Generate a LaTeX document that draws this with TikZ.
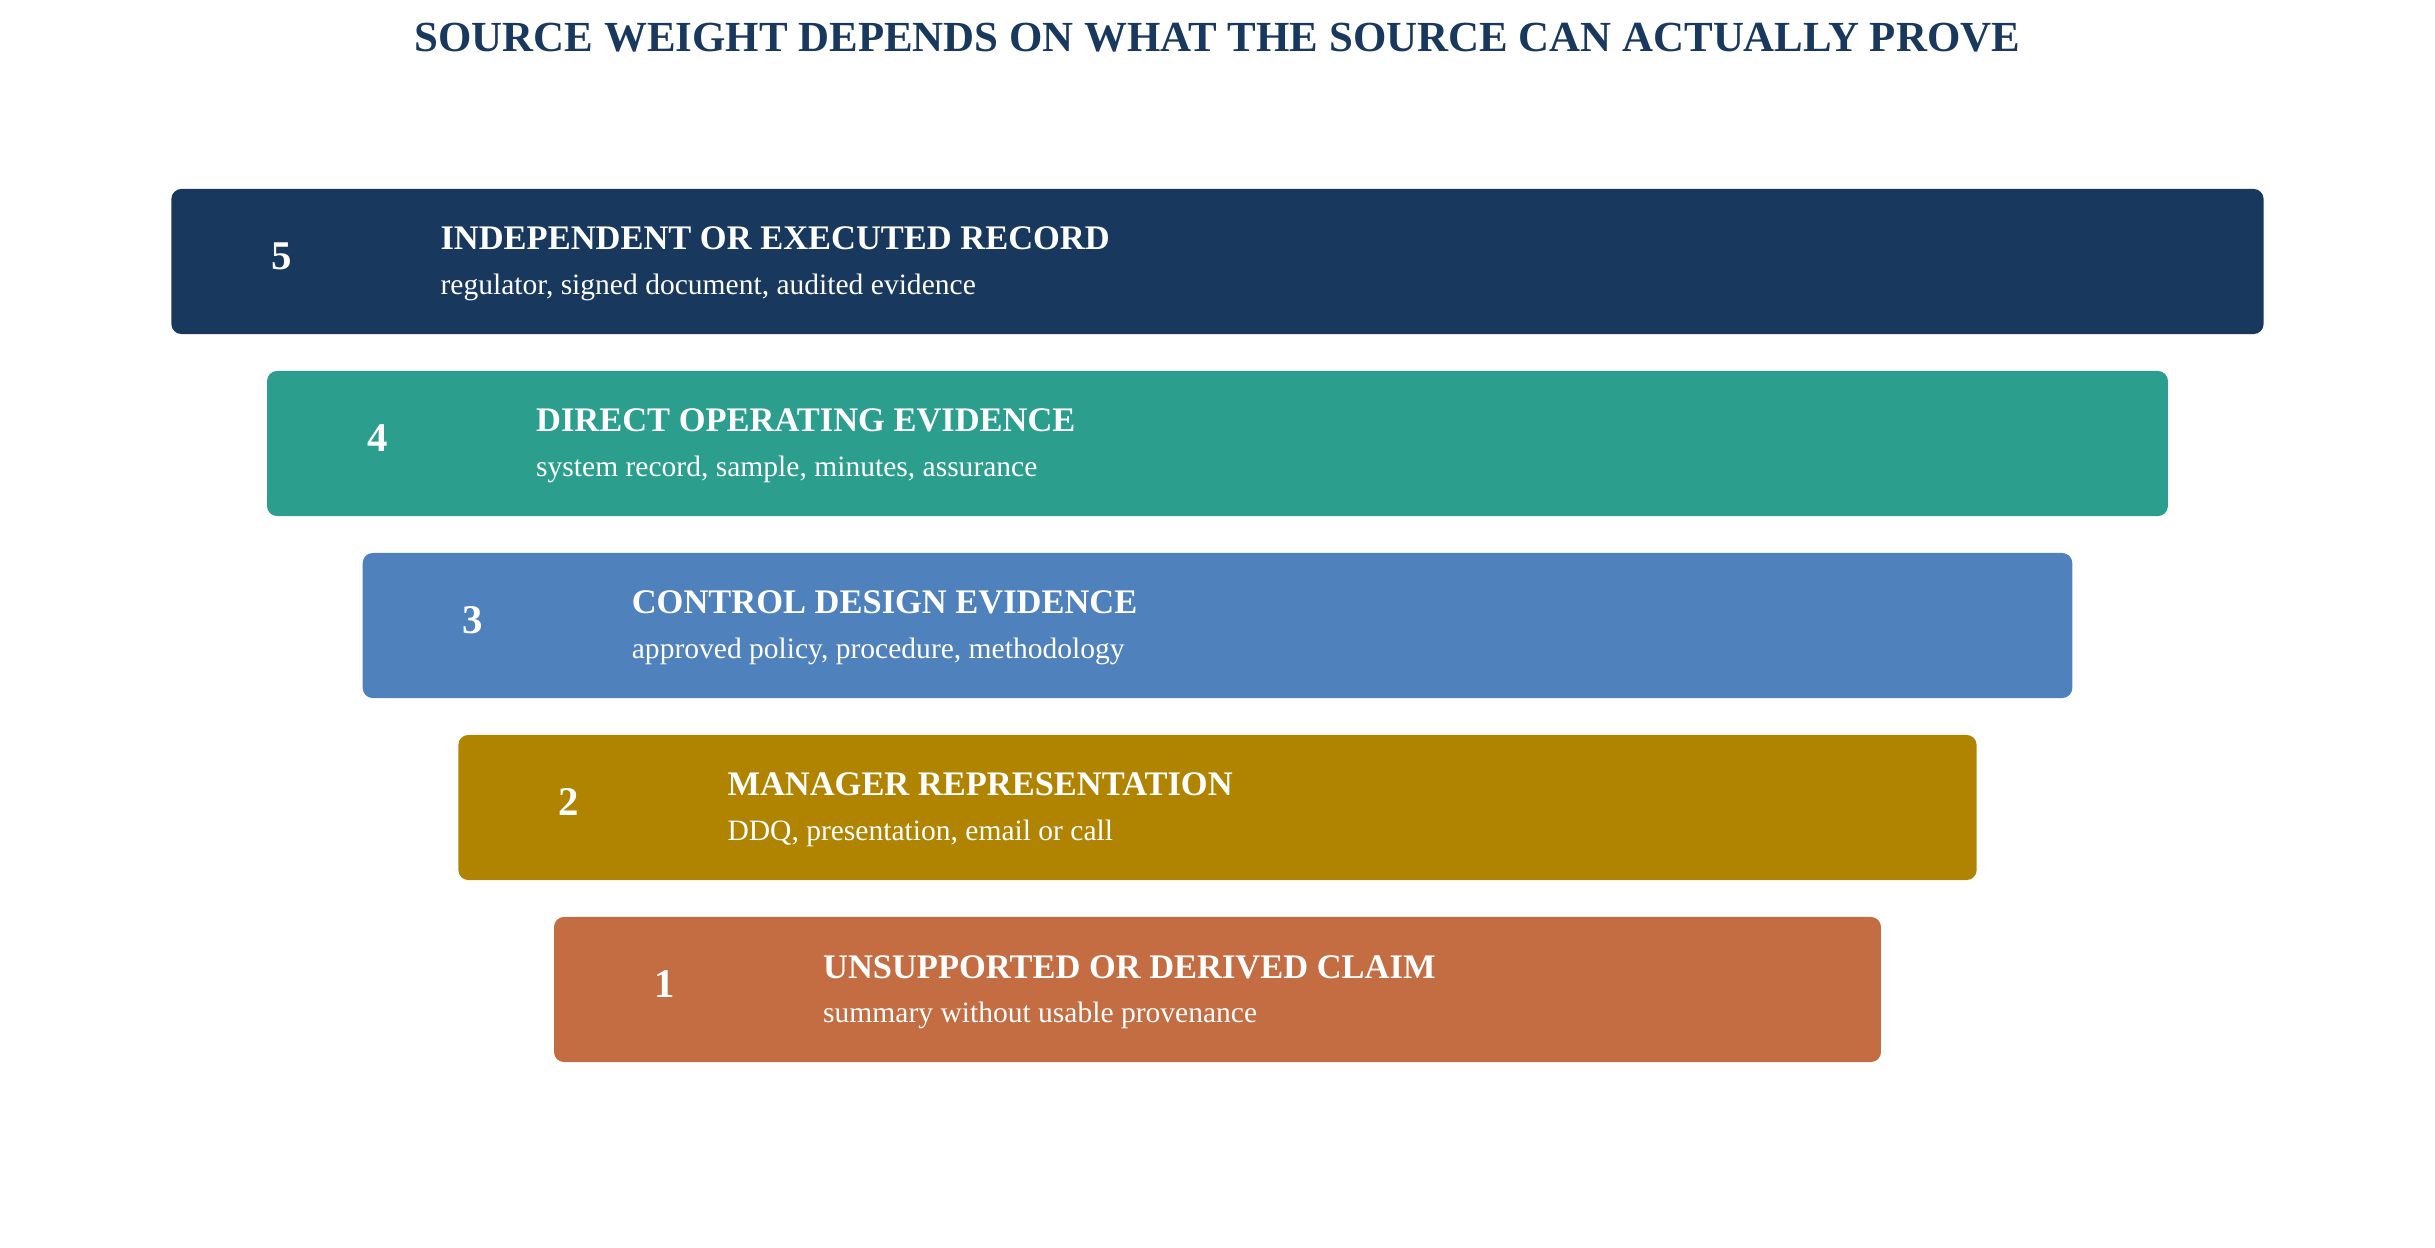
\documentclass[tikz,border=0pt]{standalone}
\usepackage{fontspec}
\setmainfont{Liberation Serif}
\definecolor{navy}{HTML}{18385E}
\definecolor{teal}{HTML}{2B9E8E}
\definecolor{steel}{HTML}{4F81BD}
\definecolor{gold}{HTML}{B08400}
\definecolor{rust}{HTML}{C46C42}
\begin{document}
\begin{tikzpicture}[x=0.01cm, y=-0.01cm,
  bandbox/.style={rectangle, rounded corners=0.1cm, inner sep=0pt, minimum height=1.45cm},
  ranknum/.style={text=white, inner sep=0pt, anchor=base, font=\bfseries\fontsize{11.6}{13}\selectfont},
  bandhead/.style={text=white, inner sep=0pt, anchor=base west, font=\bfseries\fontsize{9.8}{12}\selectfont},
  bandnote/.style={text=white, inner sep=0pt, anchor=base west, font=\fontsize{8.4}{10}\selectfont}]
  \useasboundingbox (0,0) rectangle (2435,1248);
  % title
  \node[text=navy, inner sep=0pt, anchor=base, font=\bfseries\fontsize{12.2}{15}\selectfont] (title) at (1217.5,51.7) {SOURCE WEIGHT DEPENDS ON WHAT THE SOURCE CAN ACTUALLY PROVE};
  % bands, widest on top
  \foreach \k/\n/\col/\hd/\tx in {0/5/navy/{INDEPENDENT OR EXECUTED RECORD}/{regulator, signed document, audited evidence},
      1/4/teal/{DIRECT OPERATING EVIDENCE}/{system record, sample, minutes, assurance},
      2/3/steel/{CONTROL DESIGN EVIDENCE}/{approved policy, procedure, methodology},
      3/2/gold/{MANAGER REPRESENTATION}/{DDQ, presentation, email or call},
      4/1/rust/{UNSUPPORTED OR DERIVED CLAIM}/{summary without usable provenance}} {
    \pgfmathsetmacro\w{20.91-1.912*\k}
    \node[bandbox, fill=\col, minimum width=\w cm] (b\n) at (1217.5,261.5+182*\k) {};
    \node[ranknum] (r\n) at ([xshift=1.11cm, yshift=-0.81cm]b\n.north west) {\n};
    \node[bandhead] (h\n) at ([xshift=2.69cm, yshift=-0.617cm]b\n.north west) {\hd};
    \node[bandnote] (t\n) at ([xshift=2.69cm, yshift=-1.06cm]b\n.north west) {\tx};
  }
\end{tikzpicture}
\end{document}
